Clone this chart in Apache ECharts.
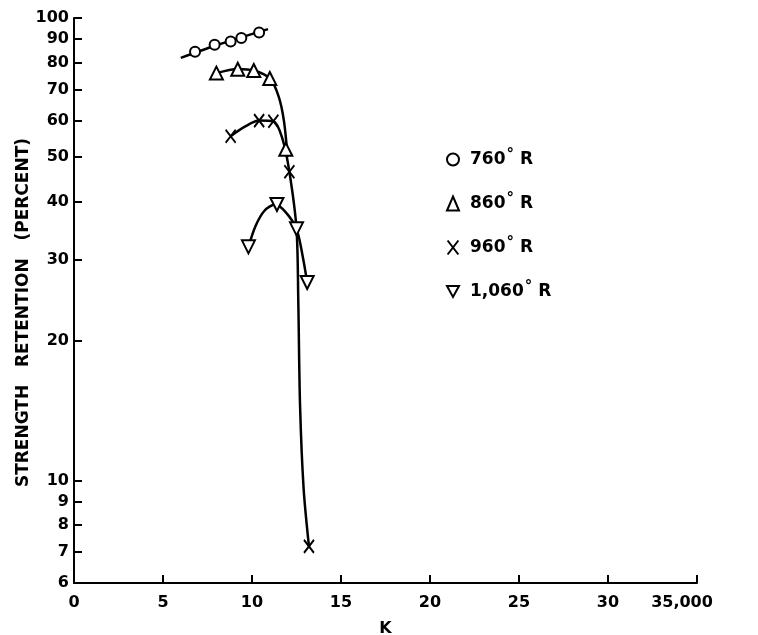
<!DOCTYPE html>
<html>
<head>
<meta charset="utf-8">
<script src="https://cdn.jsdelivr.net/npm/echarts@6/dist/echarts.min.js"></script>
<style>
  html, body { margin: 0; padding: 0; background: #fff; }
  #chart-panel { width: 758px; height: 635px; }
</style>
</head>
<body>
<div id="chart-panel"></div>
<script>
// points: [K (thousands), strength retention %]
var pts760 = [[6.8, 84.5], [7.9, 87.5], [8.8, 89], [9.4, 90.5], [10.4, 93]];
var pts860 = [[8.0, 76], [9.2, 77.5], [10.1, 77], [11.0, 74], [11.9, 52]];
var pts960 = [[8.8, 55.5], [10.4, 60], [11.2, 59.8], [12.1, 46.5], [13.2, 7.2]];
var pts1060 = [[9.8, 32], [11.4, 39.5], [12.5, 35], [13.1, 26.8]];

// faired curves drawn through the points
var fit760 = [[6.0, 82], [8.0, 87.3], [10.9, 94.6]];
var fit860 = [[8.0, 76], [9.2, 77.6], [10.1, 77], [11.0, 74], [11.5, 67.6], [11.8, 59.7], [12.0, 50]];
var fit960 = [[8.8, 55.5], [9.6, 58.2], [10.4, 60], [11.2, 59.8], [11.7, 55], [12.1, 46.5], [12.5, 35], [12.6, 24.5], [12.7, 14.5], [12.9, 9.6], [13.2, 7.2]];
var fit1060 = [[9.8, 32], [10.2, 35.5], [10.7, 38.3], [11.3, 39.5], [11.9, 38], [12.5, 35], [12.85, 30.5], [13.1, 26.8]];

var yTicks = [6, 7, 8, 9, 10, 20, 30, 40, 50, 60, 70, 80, 90, 100];
var legendNames = ['760', '860', '960', '1,060'];

var chart = document.getElementById('chart-panel');
var myChart = echarts.init(chart);

var font = 'DejaVu Sans';
var crossPath = 'path://M0,0L10,13M10,0L0,13';

function marks(name, data, symbol, size) {
  return {
    name: name,
    type: 'scatter',
    data: data,
    symbol: symbol,
    symbolSize: size,
    z: 5,
    itemStyle: { color: '#fff', borderColor: '#000', borderWidth: 2, opacity: 1 }
  };
}

function curve(data) {
  return {
    type: 'line',
    data: data,
    smooth: 0.3,
    showSymbol: false,
    silent: true,
    z: 2,
    lineStyle: { color: '#000', width: 2.5 }
  };
}

var option = {
  backgroundColor: '#fff',
  animation: false,
  grid: { left: 74, right: 61, top: 18, bottom: 52, outerBoundsMode: 'none', containLabel: false },
  legend: {
    data: legendNames,
    orient: 'vertical',
    left: 441,
    top: 143,
    itemGap: 24,
    itemWidth: 12,
    itemHeight: 14,
    formatter: function (n) { return '{t|' + n + '}{d|°}{t|R}'; },
    textStyle: {
      rich: {
        t: { fontFamily: font, fontWeight: 'bold', fontSize: 17, color: '#000', padding: [0, 0, 0, 6] },
        d: { fontFamily: font, fontWeight: 'bold', fontSize: 15, color: '#000', verticalAlign: 'top', padding: [0, 0, 8, 1] }
      }
    }
  },
  xAxis: {
    type: 'value',
    min: 0,
    max: 35,
    interval: 5,
    name: 'K',
    nameLocation: 'middle',
    nameGap: 38,
    nameTextStyle: { fontFamily: font, fontWeight: 'bold', fontSize: 16, color: '#000' },
    axisLine: { lineStyle: { color: '#000', width: 2 } },
    axisTick: { inside: true, length: 8, lineStyle: { color: '#000', width: 2 } },
    axisLabel: {
      margin: 12,
      fontFamily: font, fontWeight: 'bold', fontSize: 16, color: '#000',
      formatter: function (v) { return v === 35 ? '{r|35,000}' : String(v); },
      rich: {
        r: { fontFamily: font, fontWeight: 'bold', fontSize: 16, color: '#000', padding: [0, 30, 0, 0] }
      }
    },
    splitLine: { show: false }
  },
  yAxis: {
    type: 'log',
    logBase: 10,
    min: 6,
    max: 100,
    name: 'STRENGTH   RETENTION   (PERCENT)',
    nameLocation: 'middle',
    nameGap: 42,
    nameMoveOverlap: false,
    nameTextStyle: { fontFamily: font, fontWeight: 'bold', fontSize: 17, color: '#000', padding: [0, 24, 0, 0] },
    axisLine: { show: true, lineStyle: { color: '#000', width: 2 } },
    axisTick: { inside: true, length: 8, customValues: yTicks, lineStyle: { color: '#000', width: 2 } },
    axisLabel: {
      margin: 5,
      customValues: yTicks,
      fontFamily: font, fontWeight: 'bold', fontSize: 16, color: '#000'
    },
    splitLine: { show: false },
    minorTick: { show: false }
  },
  series: [
    curve(fit760),
    curve(fit860),
    curve(fit960),
    curve(fit1060),
    marks('760', pts760, 'circle', 10),
    marks('860', pts860, 'triangle', 13),
    marks('960', pts960, crossPath, [10, 13]),
    marks('1,060', pts1060, 'path://M0,0L10,0L5,9Z', 13)
  ]
};

myChart.setOption(option);
</script>
</body>
</html>
